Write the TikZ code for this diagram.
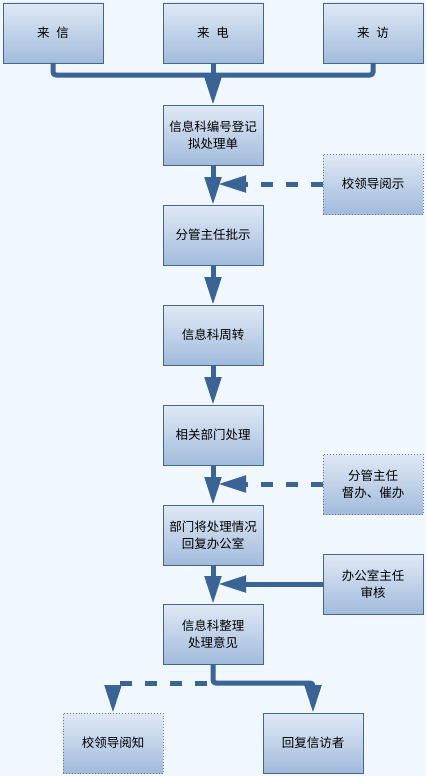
\documentclass[tikz,border=0pt]{standalone}
\usepackage{fontspec}
\usepackage{xcolor}
\newfontfamily\cjk{Noto Sans CJK SC}
\usepackage{tikz}
\usetikzlibrary{arrows.meta, positioning}
\definecolor{bgblue}{RGB}{240,247,254}
\definecolor{boxtop}{RGB}{224,233,245}
\definecolor{boxbot}{RGB}{162,187,220}
\definecolor{boxline}{RGB}{68,100,145}
\definecolor{dotline}{RGB}{110,122,138}
\definecolor{flowblue}{RGB}{58,99,150}
\tikzset{
    stepnode/.style={rectangle, minimum width=100pt, minimum height=60pt, inner sep=0pt, outer sep=0pt, align=center, draw=boxline, line width=0.9pt, top color=boxtop, bottom color=boxbot, font=\cjk\fontsize{12.5pt}{17pt}\selectfont},
    notenode/.style={stepnode, draw=dotline, dotted},
    pipe/.style={draw=flowblue, line width=5pt, rounded corners=3pt},
    flow/.style={pipe, -{Triangle[length=28pt,width=16pt]}},
    dashflow/.style={flow, dash pattern=on 12pt off 13pt},
}

\begin{document}
\begin{tikzpicture}[node distance=40pt]
  \fill[bgblue] (0,0) rectangle (426pt,-776pt);

  \node[stepnode] (reg)  at (213pt,-135pt) {信息科编号登记\\拟处理单};
  \node[stepnode] (dian) [above=42pt of reg] {来\hspace{0.55em}电};
  \node[stepnode] (xin)  [left=60pt of dian] {来\hspace{0.55em}信};
  \node[stepnode] (fang) [right=60pt of dian] {来\hspace{0.55em}访};
  \node[stepnode] (ps)   [below=of reg] {分管主任批示};
  \node[stepnode] (zz)   [below=of ps] {信息科周转};
  \node[stepnode] (cl)   [below=of zz] {相关部门处理};
  \node[stepnode] (hb)   [below=of cl] {部门将处理情况\\回复办公室};
  \node[stepnode] (zl)   [below=39pt of hb] {信息科整理\\处理意见};
  \node[notenode] (ys)   [below right=-11pt and 60pt of reg] {校领导阅示};
  \node[notenode] (db)   [below right=-11pt and 60pt of cl] {分管主任\\督办、催办};
  \node[stepnode] (sh)   [below right=-11pt and 60pt of hb] {办公室主任\\审核};
  \node[notenode] (yz)   [below left=49pt and 0pt of zl] {校领导阅知};
  \node[stepnode] (hf)   [below right=49pt and 0pt of zl] {回复信访者};

  \coordinate (hub)   at ([yshift=-12pt]dian.south);
  \coordinate (split) at ([yshift=-19pt]zl.south);

  \path[pipe] (xin.south) |- (hub) -| (fang.south);
  \path[flow] (dian.south) -- (reg.north);
  \path[flow] (reg) -- (ps);
  \path[flow] (ps) -- (zz);
  \path[flow] (zz) -- (cl);
  \path[flow] (cl) -- (hb);
  \path[flow] (hb) -- (zl);
  \path[dashflow] (ys.west) -- ([xshift=5pt]ys.west -| reg.south);
  \path[dashflow] (db.west) -- ([xshift=5pt]db.west -| cl.south);
  \path[flow] (sh.west) -- ([xshift=5pt]sh.west -| hb.south);
  \path[flow] (zl.south) -- (split) -| (hf.north);
  \path[dashflow, dash phase=19pt] (split) -| (yz.north);
\end{tikzpicture}
\end{document}
